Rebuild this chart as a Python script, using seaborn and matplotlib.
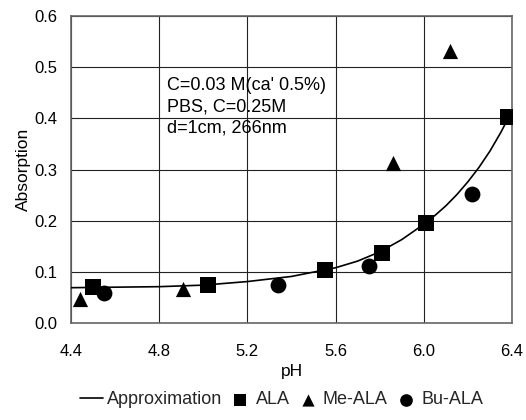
import matplotlib
matplotlib.use("Agg")
import matplotlib.pyplot as plt
import seaborn as sns
import pandas as pd

# Data
ala_ph = [4.50, 5.02, 5.55, 5.81, 6.01, 6.38]
ala_abs = [0.070, 0.075, 0.104, 0.137, 0.195, 0.402]

me_ph = [4.44, 4.91, 5.86, 6.12]
me_abs = [0.047, 0.067, 0.313, 0.532]

bu_ph = [4.55, 5.34, 5.75, 6.22]
bu_abs = [0.059, 0.075, 0.112, 0.252]

approx_ph = [4.4, 4.6, 4.8, 5.0, 5.2, 5.4, 5.6, 5.7, 5.8, 5.9, 6.0, 6.05, 6.1,
             6.15, 6.2, 6.25, 6.3, 6.35, 6.4]
approx_abs = [0.069, 0.070, 0.071, 0.074, 0.081, 0.091, 0.108, 0.121, 0.139,
              0.163, 0.193, 0.210, 0.229, 0.251, 0.276, 0.304, 0.336, 0.373, 0.415]

x_ticks = [4.4, 4.8, 5.2, 5.6, 6.0, 6.4]
y_ticks = [0.0, 0.1, 0.2, 0.3, 0.4, 0.5, 0.6]
annotation = "C=0.03 M(ca' 0.5%)\nPBS, C=0.25M\nd=1cm, 266nm"

sns.set_theme(style="white")
plt.rcParams['font.family'] = ['Liberation Sans', 'DejaVu Sans']

fig = plt.figure(figsize=(5.26, 4.2), dpi=100)
ax = fig.add_axes([71/526, 1-323/420, 441/526, 307/420])

approx_df = pd.DataFrame({"pH": approx_ph, "Absorption": approx_abs})
sns.lineplot(data=approx_df, x="pH", y="Absorption", ax=ax, color="black",
             linewidth=1.2, label="Approximation", zorder=3)

sns.scatterplot(x=ala_ph, y=ala_abs, ax=ax, marker="s", color="black",
                s=120, edgecolor="black", linewidth=0, label="ALA", zorder=4)
sns.scatterplot(x=me_ph, y=me_abs, ax=ax, marker="^", color="black",
                s=120, edgecolor="black", linewidth=0, label="Me-ALA", zorder=4)
sns.scatterplot(x=bu_ph, y=bu_abs, ax=ax, marker="o", color="black",
                s=130, edgecolor="black", linewidth=0, label="Bu-ALA", zorder=4)

ax.set_xlim(4.4, 6.4)
ax.set_ylim(0.0, 0.6)
ax.set_xticks(x_ticks)
ax.set_yticks(y_ticks)
ax.set_xticklabels([f"{v:.1f}" for v in x_ticks])
ax.set_yticklabels([f"{v:.1f}" for v in y_ticks])
ax.tick_params(axis="x", length=0, pad=15, labelsize=12, colors="black")
ax.tick_params(axis="y", length=0, pad=10, labelsize=12, colors="black")
ax.set_xlabel("pH", fontsize=12.5, labelpad=4, color="black")
ax.set_ylabel("Absorption", fontsize=12.5, labelpad=2, color="black")

ax.grid(True, color="#222222", linewidth=0.8)
ax.set_axisbelow(True)
for sp in ax.spines.values():
    sp.set_color("#666666")
    sp.set_linewidth(1.2)

ax.text(0.218, 0.80, annotation, transform=ax.transAxes, fontsize=13,
        va="top", ha="left", linespacing=1.32, color="black")

ax.get_legend().remove()
handles, labels = ax.get_legend_handles_labels()
fig.legend(handles, labels, loc="center", bbox_to_anchor=(0.535, 0.048),
           ncol=4, frameon=False, fontsize=13, handlelength=1.3,
           handletextpad=0.2, columnspacing=0.35, markerscale=0.8)

fig.savefig("out.png", dpi=100)
